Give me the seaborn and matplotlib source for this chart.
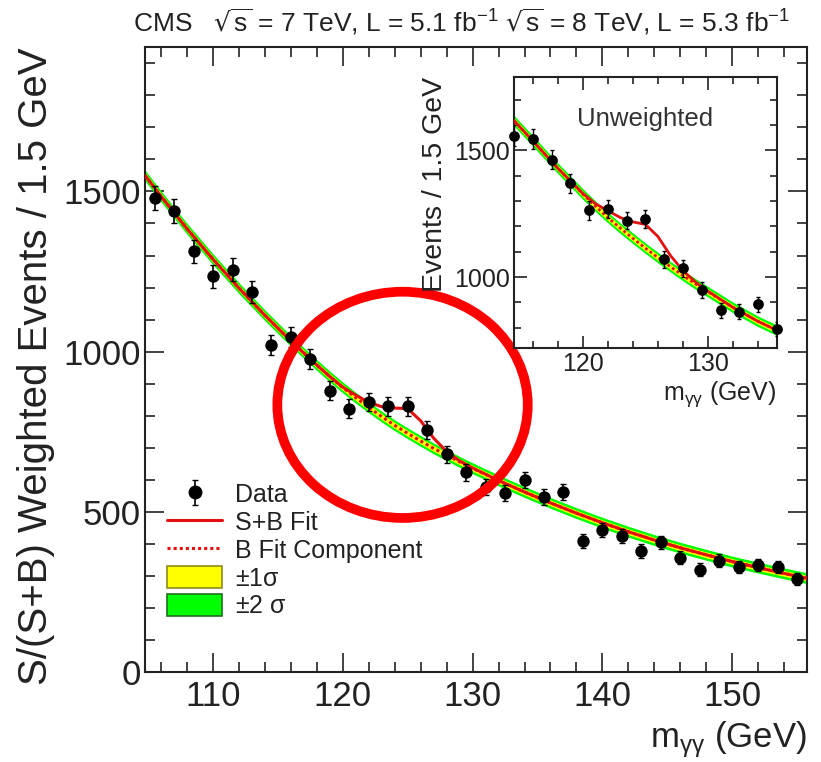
import numpy as np
import matplotlib
matplotlib.use("Agg")
import matplotlib.pyplot as plt
from matplotlib.ticker import MultipleLocator
from matplotlib.patches import Ellipse, Patch
from matplotlib.lines import Line2D
import seaborn as sns

# data
mass = [105.5, 107, 108.5, 110, 111.5, 113, 114.5, 116, 117.5, 119, 120.5, 122,
        123.5, 125, 126.5, 128, 129.5, 131, 132.5, 134, 135.5, 137, 138.5, 140,
        141.5, 143, 144.5, 146, 147.5, 149, 150.5, 152, 153.5, 155]
weighted = [1480, 1438, 1313, 1235, 1256, 1185, 1020, 1045, 977, 878, 822, 843,
            829, 829, 756, 680, 623, 579, 560, 600, 546, 562, 409, 444,
            426, 378, 405, 357, 319, 348, 329, 334, 329, 290]
weighted_err = [38, 37, 36, 35, 35, 34, 32, 32, 31, 30, 29, 29, 29, 29, 28, 27, 26,
                25, 25, 25, 24, 24, 22, 22, 22, 21, 21, 20, 20, 20, 19, 19, 19, 18]

fit_x = [104.75, 106, 108, 110, 112, 114, 116, 118, 119, 120, 121, 122, 123, 124, 125,
         126, 127, 128, 129, 130, 132, 134, 136, 138, 140, 142, 144, 146, 148,
         150, 152, 154, 155.75]
b_fit = [1550, 1484, 1383, 1288, 1198, 1113, 1033, 958, 922, 888, 856, 826, 797, 770, 745,
         721, 698, 677, 656, 636, 598, 562, 528, 496, 466, 438, 412, 388, 366,
         345, 326, 308, 293]
sb_fit = [1550, 1484, 1383, 1288, 1198, 1113, 1033, 958, 922, 889, 864, 842, 828, 824, 822,
          784, 730, 688, 659, 637, 598, 562, 528, 496, 466, 438, 412, 388, 366,
          345, 326, 308, 293]
one_sigma = 9
two_sigma = 17

inset_mass = [114.5, 116, 117.5, 119, 120.5, 122, 123.5, 125, 126.5, 128, 129.5,
              131, 132.5, 134, 135.5]
unweighted = [1559, 1544, 1463, 1371, 1263, 1269, 1223, 1230, 1070, 1034, 948,
              869, 863, 893, 794]
unweighted_err = [40, 39, 38, 37, 36, 36, 35, 35, 33, 32, 31, 29, 29, 30, 28]

inset_fit_x = [114.5, 116, 118, 120, 121, 122, 123, 124, 125, 126, 127, 128, 129,
               130, 132, 134, 135.5]
inset_b = [1618, 1538, 1430, 1328, 1280, 1235, 1193, 1153, 1114, 1077, 1041, 1006,
           973, 942, 880, 825, 790]
inset_sb = [1618, 1538, 1430, 1330, 1290, 1262, 1235, 1218, 1208, 1160, 1085, 1025,
            980, 944, 880, 825, 790]
inset_one_sigma = 11
inset_two_sigma = 21

sns.set_style("ticks")
plt.rcParams['font.family'] = ['Liberation Sans', 'DejaVu Sans']
plt.rcParams['mathtext.default'] = 'regular'

RED = '#e41010'
YELLOW = '#ffff00'
GREEN = '#00ff00'
INK = '#222222'

fig = plt.figure(figsize=(8.21, 7.62), dpi=100)
ax = fig.add_axes([0.1766, 0.118, 0.806, 0.820])


def draw_fit(a, fx, b, sb, s1, s2, lw):
    b = np.array(b)
    a.fill_between(fx, b - s2, b + s2, color=GREEN, lw=0, zorder=1)
    a.fill_between(fx, b - s1, b + s1, color=YELLOW, lw=0, zorder=2)
    sns.lineplot(x=fx, y=b, ax=a, color=RED, lw=lw, linestyle=(0, (1, 1)), sort=False, zorder=3)
    sns.lineplot(x=fx, y=sb, ax=a, color=RED, lw=lw, sort=False, zorder=4)


def style_axis(a, xmaj, xmin, ymaj, ymin, size, lmaj, lmin):
    a.xaxis.set_major_locator(MultipleLocator(xmaj))
    a.xaxis.set_minor_locator(MultipleLocator(xmin))
    a.yaxis.set_major_locator(MultipleLocator(ymaj))
    a.yaxis.set_minor_locator(MultipleLocator(ymin))
    a.tick_params(which='both', direction='in', top=True, right=True,
                  labelsize=size, width=1.2, colors=INK)
    a.tick_params(which='major', length=lmaj)
    a.tick_params(which='minor', length=lmin)
    for s in a.spines.values():
        s.set_linewidth(1.5)
        s.set_color(INK)


draw_fit(ax, fit_x, b_fit, sb_fit, one_sigma, two_sigma, 2.2)
ax.errorbar(mass, weighted, yerr=weighted_err, fmt='none', ecolor='black',
            elinewidth=1.2, capsize=2, zorder=5)
sns.scatterplot(x=mass, y=weighted, ax=ax, color='black', s=80, edgecolor='black',
                linewidth=0, zorder=6)
ax.set_xlim(104.75, 155.75)
ax.set_ylim(0, 1950)
style_axis(ax, 10, 2, 500, 100, 25, 14, 7)
ax.tick_params(axis='x', pad=6)
ax.tick_params(axis='y', pad=3)
ax.set_xlabel(r'm$_{\gamma\gamma}$ (GeV)', fontsize=25, loc='right', color=INK)
ax.set_ylabel('S/(S+B) Weighted Events / 1.5 GeV', fontsize=29, loc='top',
              color=INK, labelpad=6)

# legend: data handle with its error bar
data_handle = ax.errorbar([np.nan], [np.nan], yerr=[1], fmt='o', color='black',
                          ms=9, elinewidth=1.2, capsize=2)
handles = [
    data_handle,
    Line2D([], [], color=RED, lw=2.2),
    Line2D([], [], color=RED, lw=2.2, linestyle=(0, (1, 1))),
    Patch(facecolor=YELLOW, edgecolor='#8a8a20', lw=1.2),
    Patch(facecolor=GREEN, edgecolor='#207020', lw=1.2),
]
labels = ['Data', 'S+B Fit', 'B Fit Component', r'$\pm$1$\sigma$', r'$\pm$2 $\sigma$']
ax.legend(handles, labels, loc='lower left', bbox_to_anchor=(0.0, 0.05), frameon=False,
          fontsize=18, handlelength=2.2, handleheight=1.0, labelspacing=0.12,
          handletextpad=0.5, labelcolor=INK)

# title line
fig.text(0.162, 0.971, r'CMS   $\sqrt{s}$ = 7 TeV, L = 5.1 fb$^{-1}$ $\sqrt{s}$ = 8 TeV, L = 5.3 fb$^{-1}$',
         fontsize=19, ha='left', va='center', color=INK)

# inset with the unweighted distribution
axi = fig.add_axes([0.626, 0.5433, 0.3203, 0.3556])
draw_fit(axi, inset_fit_x, inset_b, inset_sb, inset_one_sigma, inset_two_sigma, 2.0)
axi.errorbar(inset_mass, unweighted, yerr=unweighted_err, fmt='none', ecolor='black',
             elinewidth=1.0, capsize=1.5, zorder=5)
sns.scatterplot(x=inset_mass, y=unweighted, ax=axi, color='black', s=60,
                edgecolor='black', linewidth=0, zorder=6, clip_on=False)
axi.set_xlim(114.5, 135.5)
axi.set_ylim(720, 1790)
style_axis(axi, 10, 2, 500, 100, 18, 9, 5)
axi.tick_params(pad=3)
axi.set_xlabel(r'm$_{\gamma\gamma}$ (GeV)', fontsize=18, loc='right', color=INK, labelpad=2)
axi.set_ylabel('Events / 1.5 GeV', fontsize=20.5, loc='top', color=INK, labelpad=4)
axi.text(0.5, 0.845, 'Unweighted', transform=axi.transAxes, fontsize=18.5,
         ha='center', va='center', color='#333333')

# red circle around the bump
ax.add_patch(Ellipse((124.6, 834), 19.3, 706, fill=False, edgecolor='#ff0000',
                     lw=7, zorder=10, clip_on=False))

fig.savefig('out.png', dpi=100)
